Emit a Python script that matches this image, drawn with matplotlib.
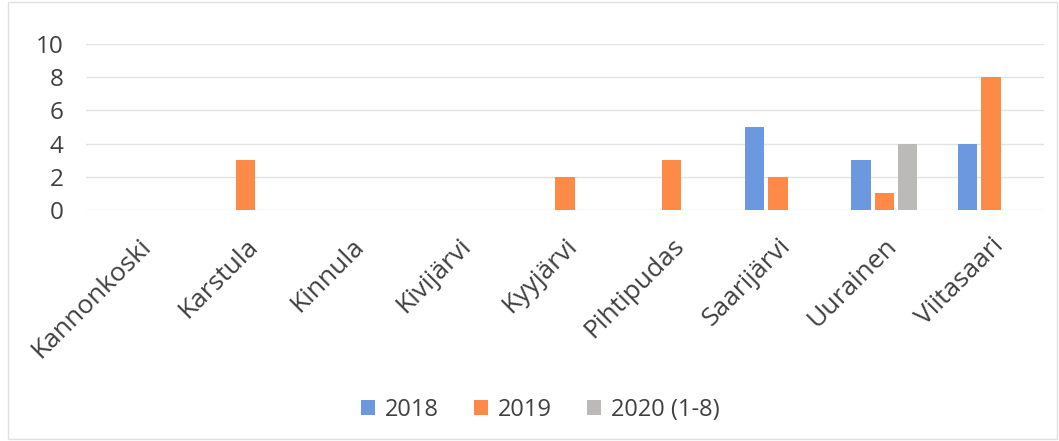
import matplotlib
matplotlib.use("Agg")
import matplotlib.pyplot as plt
import numpy as np

categories = ["Kannonkoski", "Karstula", "Kinnula", "Kivijärvi", "Kyyjärvi",
              "Pihtipudas", "Saarijärvi", "Uurainen", "Viitasaari"]
series_names = ["2018", "2019", "2020 (1-8)"]
v2018 = [0, 0, 0, 0, 0, 0, 5, 3, 4]
v2019 = [0, 3, 0, 0, 2, 3, 2, 1, 8]
v2020 = [0, 0, 0, 0, 0, 0, 0, 4, 0]
colors = ["#6b98de", "#fe8a48", "#bcb9b9"]

plt.rcParams['font.family'] = ['Open Sans', 'DejaVu Sans']
fig = plt.figure(figsize=(10.59, 4.41), dpi=100)
ax = fig.add_axes([0.081, 0.524, 0.905, 0.376])

x = np.arange(len(categories))
w = 0.18
step = 0.22
for i, (vals, c, name) in enumerate(zip([v2018, v2019, v2020], colors, series_names)):
    ax.bar(x + (i - 1) * step, vals, width=w, color=c, label=name, zorder=3)

ax.set_xlim(-0.5, len(categories) - 0.5)
ax.set_ylim(0, 10)
ax.set_yticks([0, 2, 4, 6, 8, 10])
ax.yaxis.grid(True, color="#e3e3e3", linewidth=1, zorder=0)
for s in ax.spines.values():
    s.set_visible(False)
ax.tick_params(axis='both', length=0, colors="#404040")
ax.tick_params(axis='y', labelsize=17.5, pad=16)
ax.set_xticks(x)
ax.set_xticklabels(categories, rotation=45, ha='right', rotation_mode='anchor',
                   fontsize=19, color="#404040")
ax.tick_params(axis='x', pad=17)

fig.legend(loc='center', bbox_to_anchor=(0.51, 0.07), ncol=3, frameon=False,
           fontsize=17, handlelength=0.6, handleheight=0.6, handletextpad=0.4,
           columnspacing=1.5, labelcolor="#404040")

fig.patches.append(plt.Rectangle((0.008, 0.005), 0.99, 0.99, transform=fig.transFigure,
                                 fill=False, edgecolor="#e0e0e0", linewidth=1))
fig.savefig("out.png", dpi=100, facecolor="white")
